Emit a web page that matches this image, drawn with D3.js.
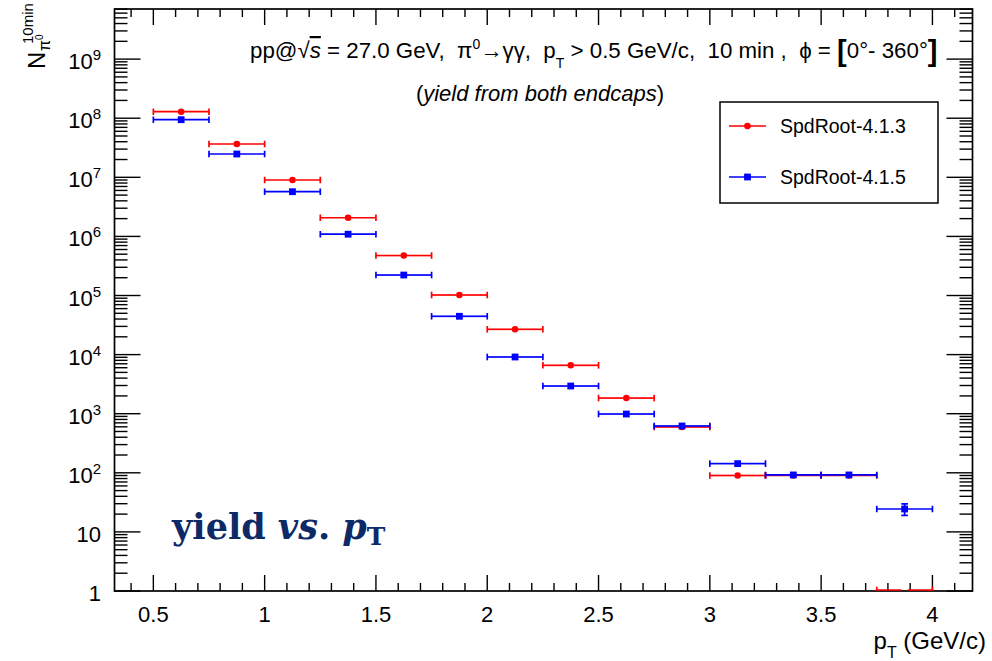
<!DOCTYPE html>
<html>
<head>
<meta charset="utf-8">
<script src="https://cdn.jsdelivr.net/npm/d3@7"></script>
<style>
  body { margin: 0; background: #fff; }
  svg { display: block; }
  text { font-family: "Liberation Sans", Arial, Helvetica, sans-serif; white-space: pre; }
</style>
</head>
<body>
<svg id="chart" width="992" height="661"></svg>
<script>
// pT bins (GeV/c): centres and half width
const binCenters = [0.625, 0.875, 1.125, 1.375, 1.625, 1.875, 2.125, 2.375, 2.625, 2.875, 3.125, 3.375, 3.625, 3.875];
const binHalfWidth = 0.125;

// pi0 yields in 10 min, both endcaps
const yield413 = [1.29e8, 3.66e7, 9.0e6, 2.07e6, 4.75e5, 1.02e5, 2.68e4, 6.59e3, 1.84e3, 596, 90, 90, 90, 0];
const err413   = [1.1e4, 6.0e3, 3.0e3, 1.4e3, 690, 320, 164, 81, 43, 24, 9.5, 9.5, 9.5, 0];
const yield415 = [9.44e7, 2.48e7, 5.71e6, 1.09e6, 2.22e5, 4.45e4, 9.11e3, 2.94e3, 988, 620, 143, 92, 92, 24.4];
const err415   = [9.7e3, 5.0e3, 2.4e3, 1.0e3, 470, 211, 95, 54, 31, 25, 12, 9.6, 9.6, 5.4];

const seriesNames = ["SpdRoot-4.1.3", "SpdRoot-4.1.5"];
const seriesColors = ["#ff0000", "#0000ff"];

const xTickValues = [0.5, 1, 1.5, 2, 2.5, 3, 3.5, 4];
const xTickLabels = ["0.5", "1", "1.5", "2", "2.5", "3", "3.5", "4"];
const yDecades = [0, 1, 2, 3, 4, 5, 6, 7, 8, 9];

const svg = d3.select("#chart");
const frame = { left: 114.5, right: 972.5, top: 9, bottom: 591 };

const x = d3.scaleLinear().domain([0.3255, 4.18]).range([frame.left, frame.right]);
const y = d3.scaleLog().domain([1, Math.pow(10, 9.848)]).range([frame.bottom, frame.top]);

svg.append("defs").append("clipPath").attr("id", "plotClip")
  .append("rect")
  .attr("x", frame.left).attr("y", frame.top)
  .attr("width", frame.right - frame.left).attr("height", frame.bottom - frame.top);

// ---- ticks (inside, on all four sides) ----
const tickG = svg.append("g").attr("stroke", "#000").attr("stroke-width", 1.4);
const xMinor = d3.range(4, 42).map(i => i / 10).filter(v => v >= x.domain()[0] && v <= x.domain()[1]);
xMinor.forEach(v => {
  const major = Math.abs(v * 2 - Math.round(v * 2)) < 1e-9;
  const len = major ? 16 : 8;
  const px = x(v);
  tickG.append("line").attr("x1", px).attr("x2", px).attr("y1", frame.bottom).attr("y2", frame.bottom - len);
  tickG.append("line").attr("x1", px).attr("x2", px).attr("y1", frame.top).attr("y2", frame.top + len);
});
const yMax = y.domain()[1];
yDecades.forEach(d => {
  for (let k = 1; k <= 9; k++) {
    const v = k * Math.pow(10, d);
    if (v > yMax) break;
    const len = k === 1 ? 26 : 13;
    const py = y(v);
    tickG.append("line").attr("x1", frame.left).attr("x2", frame.left + len).attr("y1", py).attr("y2", py);
    tickG.append("line").attr("x1", frame.right).attr("x2", frame.right - len).attr("y1", py).attr("y2", py);
  }
});

// ---- frame ----
svg.append("rect")
  .attr("x", frame.left).attr("y", frame.top)
  .attr("width", frame.right - frame.left).attr("height", frame.bottom - frame.top)
  .attr("fill", "none").attr("stroke", "#000").attr("stroke-width", 1.7);

// ---- tick labels ----
svg.append("g").selectAll("text").data(xTickValues).join("text")
  .attr("x", d => x(d)).attr("y", 622)
  .attr("text-anchor", "middle").attr("font-size", 22)
  .text((d, i) => xTickLabels[i]);

const yLab = svg.append("g");
yDecades.forEach(d => {
  const t = yLab.append("text")
    .attr("x", 101).attr("y", y(Math.pow(10, d)) + 10)
    .attr("text-anchor", "end").attr("font-size", 22);
  if (d === 0) t.text("1");
  else if (d === 1) t.text("10");
  else {
    t.append("tspan").text("10");
    t.append("tspan").attr("font-size", 15).attr("dy", -9).text(String(d));
  }
});

// ---- axis titles ----
const xt = svg.append("text").attr("x", 986).attr("y", 649).attr("text-anchor", "end").attr("font-size", 24);
xt.append("tspan").text("p");
xt.append("tspan").attr("font-size", 16).attr("dy", 9).text("T");
xt.append("tspan").attr("dy", -9).text(" (GeV/c)");

const yt = svg.append("g").attr("transform", "translate(45,69) rotate(-90)");
yt.append("text").attr("x", 0).attr("y", 0).attr("font-size", 24).text("N");
const ySub = yt.append("text").attr("x", 18).attr("y", 5).attr("font-size", 16);
ySub.append("tspan").text("π");
ySub.append("tspan").attr("font-size", 10).attr("dy", -7).text("0");
yt.append("text").attr("x", 25).attr("y", -12).attr("font-size", 15).text("10min");

// ---- headline ----
const h = svg.append("text").attr("x", 250).attr("y", 58).attr("font-size", 22.3);
h.append("tspan").text("pp@");
h.append("tspan").text("√");
h.append("tspan").attr("font-style", "italic").attr("text-decoration", "overline").text("s");
h.append("tspan").text(" = 27.0 GeV,  π");
h.append("tspan").attr("font-size", 14).attr("dy", -9).text("0");
h.append("tspan").attr("dy", 9).text("→γγ,  p");
h.append("tspan").attr("font-size", 14).attr("dy", 10).text("T");
h.append("tspan").attr("dy", -10).text(" > 0.5 GeV/c,  10 min ,  ϕ = ");
h.append("tspan").attr("font-weight", "bold").attr("font-size", 29).attr("dy", 3).text("[");
h.append("tspan").attr("dy", -3).text("0°- 360°");
h.append("tspan").attr("font-weight", "bold").attr("font-size", 29).attr("dy", 3).text("]");

const h2 = svg.append("text").attr("x", 540).attr("y", 101).attr("text-anchor", "middle").attr("font-size", 22);
h2.append("tspan").text("(");
h2.append("tspan").attr("font-style", "italic").text("yield from both endcaps");
h2.append("tspan").text(")");

// ---- data points with error bars ----
const capH = 3.3;
const plot = svg.append("g").attr("clip-path", "url(#plotClip)");

function drawSeries(vals, errs, color, marker) {
  const g = plot.append("g").attr("stroke", color).attr("fill", color).attr("stroke-width", 1.7);
  vals.forEach((v, i) => {
    const xl = x(binCenters[i] - binHalfWidth), xr = x(binCenters[i] + binHalfWidth), xc = x(binCenters[i]);
    const py = v > 0 ? y(v) : frame.bottom - 1;
    const gap = 3;
    g.append("line").attr("x1", xl).attr("x2", xc - gap).attr("y1", py).attr("y2", py);
    g.append("line").attr("x1", xc + gap).attr("x2", xr).attr("y1", py).attr("y2", py);
    g.append("line").attr("x1", xl).attr("x2", xl).attr("y1", py - capH).attr("y2", py + capH);
    g.append("line").attr("x1", xr).attr("x2", xr).attr("y1", py - capH).attr("y2", py + capH);
    if (v > 0 && errs[i] > 0) {
      const yHi = y(v + errs[i]), yLo = y(Math.max(v - errs[i], 1e-3));
      if (py - yHi > 3.5) {
        g.append("line").attr("x1", xc).attr("x2", xc).attr("y1", yHi).attr("y2", py - 3);
        g.append("line").attr("x1", xc - capH).attr("x2", xc + capH).attr("y1", yHi).attr("y2", yHi);
      }
      if (yLo - py > 3.5) {
        g.append("line").attr("x1", xc).attr("x2", xc).attr("y1", py + 3).attr("y2", yLo);
        g.append("line").attr("x1", xc - capH).attr("x2", xc + capH).attr("y1", yLo).attr("y2", yLo);
      }
    }
    if (v > 0) drawMarker(g, xc, py, marker);
  });
}
function drawMarker(g, cx, cy, marker) {
  if (marker === "circle") {
    g.append("circle").attr("cx", cx).attr("cy", cy).attr("r", 3.3).attr("stroke", "none");
  } else {
    g.append("rect").attr("x", cx - 3.4).attr("y", cy - 3.4).attr("width", 6.8).attr("height", 6.8).attr("stroke", "none");
  }
}
drawSeries(yield413, err413, seriesColors[0], "circle");
drawSeries(yield415, err415, seriesColors[1], "square");

// ---- legend ----
const lg = svg.append("g");
lg.append("rect").attr("x", 720).attr("y", 102).attr("width", 218).attr("height", 101)
  .attr("fill", "#fff").attr("stroke", "#000").attr("stroke-width", 1.5);
[126, 177].forEach((ly, i) => {
  lg.append("line").attr("x1", 729).attr("x2", 766).attr("y1", ly).attr("y2", ly)
    .attr("stroke", seriesColors[i]).attr("stroke-width", 1.7);
  const mg = lg.append("g").attr("fill", seriesColors[i]);
  drawMarker(mg, 747.5, ly, i === 0 ? "circle" : "square");
  lg.append("text").attr("x", 780).attr("y", ly + 7).attr("font-size", 19.5).text(seriesNames[i]);
});

// ---- annotation ----
const ann = svg.append("text").attr("x", 172).attr("y", 539)
  .attr("font-size", 35).attr("font-weight", "bold").attr("fill", "#0e2a66")
  .style("font-family", '"DejaVu Serif", "Liberation Serif", serif');
ann.append("tspan").text("yield ");
ann.append("tspan").attr("font-style", "italic").text("vs");
ann.append("tspan").text(". ");
ann.append("tspan").attr("font-style", "italic").text("p");
ann.append("tspan").attr("font-size", 25).attr("dy", 6).text("T");
</script>
</body>
</html>
